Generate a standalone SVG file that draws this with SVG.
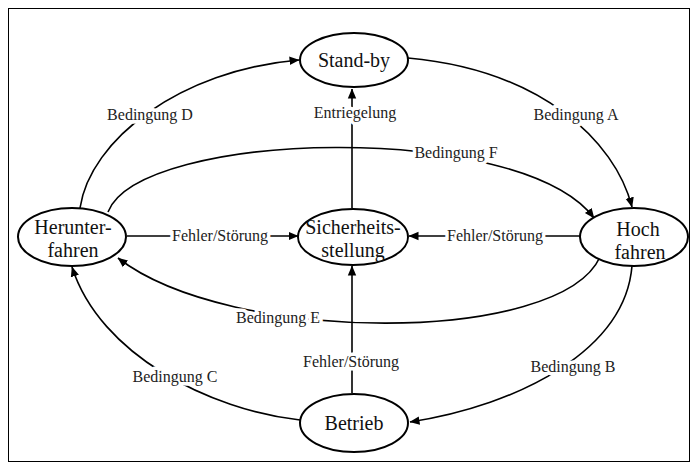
<svg xmlns="http://www.w3.org/2000/svg" width="698" height="472" viewBox="0 0 698 472">
<style>
.node ellipse{fill:#fff;stroke:#000;stroke-width:2}
.node text{font-family:"Liberation Serif","Times New Roman",serif;font-size:20px;fill:#111;text-anchor:middle}
.conn path{fill:none;stroke:#000;stroke-width:1.6}
.lbl{font-family:"Liberation Serif","Times New Roman",serif;font-size:16px;fill:#222;text-anchor:middle;stroke:#fff;stroke-width:7;paint-order:stroke;stroke-linejoin:round}
</style>
<defs>
<marker id="ah" viewBox="0 0 10 10" refX="9.5" refY="5" markerWidth="10" markerHeight="10" markerUnits="userSpaceOnUse" orient="auto">
<path d="M0,0.8 L10,5 L0,9.2 Z" fill="#000"/>
</marker>
</defs>
<rect x="8.5" y="8.5" width="681" height="453" fill="#fff" stroke="#000" stroke-width="1"/>
<g id="connectors" class="conn">
<path d="M80,208 C90,140 180,70 299,60" marker-end="url(#ah)"/>
<path d="M408,58 C540,70 615,140 632,207" marker-end="url(#ah)"/>
<path d="M352,208 L352,89" marker-end="url(#ah)"/>
<path d="M108,212 C140,130 520,120 594,218" marker-end="url(#ah)"/>
<path d="M600,257 C560,345 230,345 118,258" marker-end="url(#ah)"/>
<path d="M127,236 L298,236" marker-end="url(#ah)"/>
<path d="M580,236 L409,236" marker-end="url(#ah)"/>
<path d="M352,393 L352,266" marker-end="url(#ah)"/>
<path d="M632,266 C625,350 520,405 410,422" marker-end="url(#ah)"/>
<path d="M300,420 C210,410 100,355 72,267" marker-end="url(#ah)"/>
<text class="lbl" x="150" y="120">Bedingung D</text>
<text class="lbl" x="355" y="118">Entriegelung</text>
<text class="lbl" x="576" y="120">Bedingung A</text>
<text class="lbl" x="456" y="158">Bedingung F</text>
<text class="lbl" x="220" y="241">Fehler/Störung</text>
<text class="lbl" x="495" y="241">Fehler/Störung</text>
<text class="lbl" x="278" y="323">Bedingung E</text>
<text class="lbl" x="175" y="382">Bedingung C</text>
<text class="lbl" x="351" y="367">Fehler/Störung</text>
<text class="lbl" x="573" y="372">Bedingung B</text>
</g>
<g id="standby" class="node">
<ellipse cx="354" cy="60" rx="54" ry="27"/>
<text x="354" y="67">Stand-by</text>
</g>
<g id="herunterfahren" class="node">
<ellipse cx="72" cy="237" rx="54" ry="29"/>
<text x="73" y="234">Herunter-</text>
<text x="73" y="257">fahren</text>
</g>
<g id="sicherheitsstellung" class="node">
<ellipse cx="353" cy="237" rx="55" ry="28"/>
<text x="353" y="234">Sicherheits-</text>
<text x="353" y="257">stellung</text>
</g>
<g id="hochfahren" class="node">
<ellipse cx="634" cy="237" rx="54" ry="29"/>
<text x="638" y="236">Hoch</text>
<text x="640" y="259">fahren</text>
</g>
<g id="betrieb" class="node">
<ellipse cx="354" cy="423" rx="54" ry="29"/>
<text x="354" y="430">Betrieb</text>
</g>
</svg>
